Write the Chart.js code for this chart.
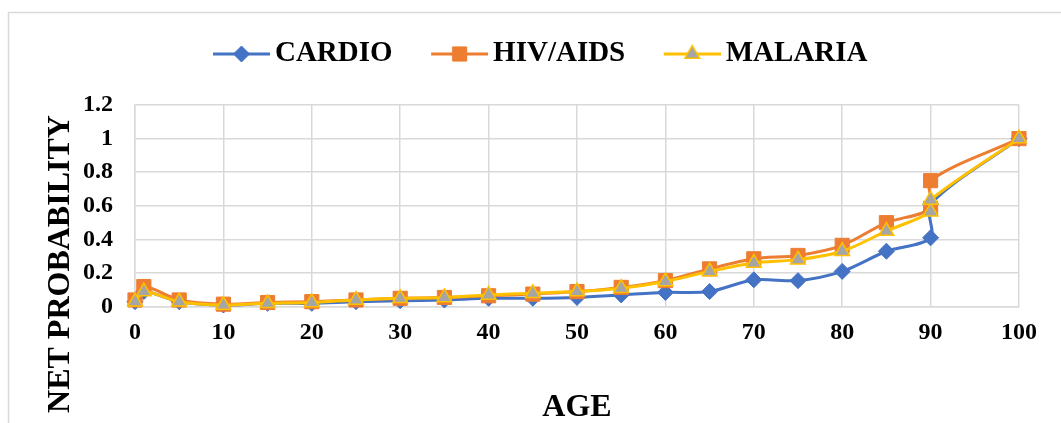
<!DOCTYPE html>
<html>
<head>
<meta charset="utf-8">
<title>Net probability by age</title>
<script src="https://cdn.jsdelivr.net/npm/chart.js@4.4.1/dist/chart.umd.min.js"></script>
<style>
  html, body { margin: 0; padding: 0; background: #ffffff; }
  #wrap { width: 1061px; height: 423px; }
</style>
</head>
<body>
<div id="wrap"><canvas id="chart" width="1061" height="423"></canvas></div>
<script>
// Ages (x values); 90 appears twice as in the source table
const ages = [0, 1, 5, 10, 15, 20, 25, 30, 35, 40, 45, 50, 55, 60, 65, 70, 75, 80, 85, 90, 90, 100];

// Net probability per cause
const cardio  = [0.03, 0.09, 0.03, 0.01, 0.02, 0.02, 0.03, 0.035, 0.04, 0.05, 0.05, 0.055, 0.07, 0.085, 0.09, 0.16, 0.155, 0.21, 0.33, 0.41, 0.61, 1.0];
const hivAids = [0.04, 0.12, 0.04, 0.015, 0.025, 0.03, 0.04, 0.05, 0.055, 0.065, 0.075, 0.09, 0.115, 0.155, 0.225, 0.285, 0.305, 0.365, 0.5, 0.585, 0.75, 1.0];
const malaria = [0.03, 0.09, 0.03, 0.01, 0.02, 0.025, 0.04, 0.05, 0.055, 0.07, 0.08, 0.09, 0.11, 0.15, 0.21, 0.26, 0.28, 0.33, 0.45, 0.565, 0.635, 1.0];

const seriesNames = ['CARDIO', 'HIV/AIDS', 'MALARIA'];
const xTicks = [0, 10, 20, 30, 40, 50, 60, 70, 80, 90, 100];
const yTicks = [0, 0.2, 0.4, 0.6, 0.8, 1, 1.2];
const yTickLabels = ['0', '0.2', '0.4', '0.6', '0.8', '1', '1.2'];
const xTitle = 'AGE';
const yTitle = 'NET PROBABILITY';

const SERIF = '"Liberation Serif", "Times New Roman", serif';
const GRID = '#d9d9d9';

const styles = [
  { line: '#4472c4', fill: '#4472c4', edge: '#4472c4', shape: 'rectRot', r: 8, bw: 1 },
  { line: '#ed7d31', fill: '#ed7d31', edge: '#ed7d31', shape: 'rect', r: 10, bw: 1 },
  { line: '#ffc000', fill: '#a5a5a5', edge: '#ffc000', shape: 'triangle', r: 8.5, bw: 1.5 }
];

function toPoints(values) {
  return ages.map((a, i) => ({ x: a, y: values[i] }));
}

// Legend swatch: a short line with the series marker in its middle
function legendSwatch(st) {
  const c = document.createElement('canvas');
  c.width = 95; c.height = 22;
  const g = c.getContext('2d');
  const x0 = 38, x1 = 95, cy = 11, cx = (x0 + x1) / 2;
  g.strokeStyle = st.line; g.lineWidth = 3;
  g.beginPath(); g.moveTo(x0, cy); g.lineTo(x1, cy); g.stroke();
  g.fillStyle = st.fill; g.strokeStyle = st.edge; g.lineWidth = st.bw;
  g.beginPath();
  if (st.shape === 'rectRot') {
    g.moveTo(cx, cy - st.r); g.lineTo(cx + st.r, cy); g.lineTo(cx, cy + st.r); g.lineTo(cx - st.r, cy);
  } else if (st.shape === 'rect') {
    const h = st.r * Math.SQRT1_2;
    g.rect(cx - h, cy - h, 2 * h, 2 * h);
  } else {
    const r = st.r;
    g.moveTo(cx, cy - r);
    g.lineTo(cx + r * Math.sin(Math.PI / 3), cy + r / 2);
    g.lineTo(cx - r * Math.sin(Math.PI / 3), cy + r / 2);
  }
  g.closePath(); g.fill(); g.stroke();
  return c;
}
const swatches = styles.map(legendSwatch);

const datasets = [cardio, hivAids, malaria].map((vals, i) => ({
  label: seriesNames[i],
  data: toPoints(vals),
  borderColor: styles[i].line,
  backgroundColor: styles[i].fill,
  borderWidth: 3,
  tension: 0.3,
  pointStyle: styles[i].shape,
  pointRadius: styles[i].r,
  pointHoverRadius: styles[i].r,
  pointBackgroundColor: styles[i].fill,
  pointBorderColor: styles[i].edge,
  pointBorderWidth: styles[i].bw,
  clip: false,
  order: 3 - i
}));

// Light outer frame around the chart
const frame = {
  id: 'frame',
  beforeDraw(chart) {
    const ctx = chart.ctx;
    ctx.save();
    ctx.fillStyle = '#ffffff';
    ctx.fillRect(0, 0, chart.width, chart.height);
    ctx.strokeStyle = GRID;
    ctx.lineWidth = 1.5;
    ctx.strokeRect(8.5, 12.5, chart.width + 20, chart.height + 20);
    ctx.restore();
  }
};

// Vertical axis title, set lower than the plot centre so it runs down past the x labels
const yAxisTitle = {
  id: 'yAxisTitle',
  afterDraw(chart) {
    const ctx = chart.ctx;
    ctx.save();
    ctx.translate(61, 264);
    ctx.rotate(-Math.PI / 2);
    ctx.font = 'bold 32px ' + SERIF;
    ctx.fillStyle = '#000000';
    ctx.textAlign = 'center';
    ctx.textBaseline = 'middle';
    ctx.fillText(yTitle, 0, 0);
    ctx.restore();
  }
};

// Reserve room under the legend so the plot starts lower
const legendRoom = {
  id: 'legendRoom',
  beforeLayout(chart) {
    const lg = chart.legend;
    if (lg && !lg._roomWrapped) {
      const fit = lg.fit;
      lg.fit = function () { fit.call(this); this.height = 75.5; };
      lg._roomWrapped = true;
    }
  }
};

new Chart(document.getElementById('chart'), {
  type: 'line',
  data: { datasets },
  plugins: [frame, legendRoom, yAxisTitle],
  options: {
    responsive: false,
    devicePixelRatio: 1,
    animation: false,
    layout: { padding: { left: 33, right: 42, top: 29.5, bottom: 0 } },
    plugins: {
      tooltip: { enabled: false },
      legend: {
        position: 'top',
        labels: {
          usePointStyle: true,
          pointStyleWidth: 76,
          padding: 10,
          color: '#000000',
          font: { family: SERIF, size: 29, weight: 'bold' },
          sort: (a, b) => a.datasetIndex - b.datasetIndex,
          generateLabels: (chart) => chart.data.datasets.map((ds, i) => ({
            text: ds.label,
            datasetIndex: i,
            pointStyle: swatches[i],
            fillStyle: ds.backgroundColor,
            strokeStyle: ds.borderColor,
            lineWidth: 0,
            hidden: false,
            fontColor: '#000000'
          }))
        }
      }
    },
    scales: {
      x: {
        type: 'linear',
        min: 0, max: 100,
        afterFit: (s) => { s.height = 116.3; },
        afterBuildTicks: (s) => { s.ticks = xTicks.map(v => ({ value: v })); },
        ticks: {
          padding: 12,
          color: '#000000',
          font: { family: SERIF, size: 24, weight: 'bold' },
          callback: (v) => String(v)
        },
        grid: { color: GRID, lineWidth: 1.5, drawTicks: false },
        border: { display: true, color: GRID, width: 1.5 },
        title: {
          display: true,
          text: xTitle,
          color: '#000000',
          font: { family: SERIF, size: 32, weight: 'bold', lineHeight: 1 },
          padding: { top: 0, bottom: -1 }
        }
      },
      y: {
        type: 'linear',
        min: 0, max: 1.2,
        afterFit: (s) => { s.width = 102; },
        afterBuildTicks: (s) => { s.ticks = yTicks.map(v => ({ value: v })); },
        ticks: {
          padding: 22,
          color: '#000000',
          font: { family: SERIF, size: 24, weight: 'bold' },
          callback: (v) => {
            const k = yTicks.findIndex(t => Math.abs(t - v) < 1e-9);
            return k >= 0 ? yTickLabels[k] : '';
          }
        },
        grid: { color: GRID, lineWidth: 1.5, drawTicks: false },
        border: { display: true, color: GRID, width: 1.5 },
        title: { display: false }
      }
    }
  }
});
</script>
</body>
</html>
